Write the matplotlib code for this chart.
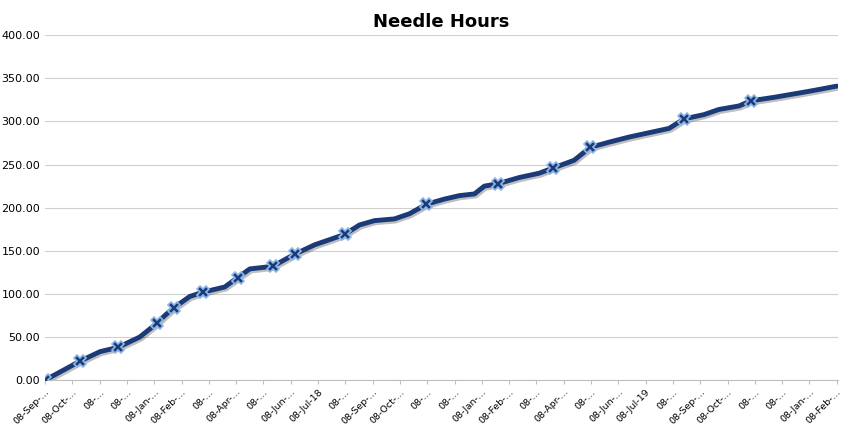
import matplotlib.pyplot as plt
import matplotlib.patheffects as pe

# x in months since 08-Sep-2017, y in hours
line_months = [0, 1.28, 2.01, 2.67, 3.47, 4.1, 4.39, 4.72, 5.3, 5.78, 6.58, 7.06, 7.5, 8.34,
               9.14, 9.88, 10.43, 10.97, 11.52, 12.07, 12.8, 13.35, 13.97, 14.63, 15.18,
               15.73, 16.09, 16.61, 17.37, 18.1, 18.61, 19.38, 19.97, 20.66, 21.4, 22.13,
               22.86, 23.41, 24.14, 24.69, 25.42, 25.86, 26.7, 27.62, 28.16, 29.0]
line_hours = [0, 22, 33, 38, 50, 66, 75, 84, 97, 102, 108, 119, 129, 132,
              146, 157, 163, 169, 180, 185, 187, 193, 204, 210, 214,
              216, 225, 228, 235, 240, 246, 255, 270, 276, 282, 287, 292, 303,
              308, 314, 318, 324, 328, 333, 336, 341]
marker_months = [0, 1.28, 2.67, 4.1, 4.72, 5.78, 7.06, 8.34, 9.14, 10.97, 13.97, 16.61,
                 18.61, 19.97, 23.41, 25.86]
marker_hours = [0, 22, 38, 66, 84, 102, 119, 132, 146, 169, 204, 228, 246, 270, 303, 324]

tick_labels = ["08-Sep-…", "08-Oct-…", "08-…", "08-…", "08-Jan-…", "08-Feb-…", "08-…",
               "08-Apr-…", "08-…", "08-Jun-…", "08-Jul-18", "08-…", "08-Sep-…", "08-Oct-…",
               "08-…", "08-…", "08-Jan-…", "08-Feb-…", "08-…", "08-Apr-…", "08-…",
               "08-Jun-…", "08-Jul-19", "08-…", "08-Sep-…", "08-Oct-…", "08-…", "08-…",
               "08-Jan-…", "08-Feb-…"]

fig, ax = plt.subplots(figsize=(8.5, 4.3), dpi=100)
fig.subplots_adjust(left=0.053, right=0.986, top=0.918, bottom=0.116)

shadow = [pe.SimpleLineShadow(offset=(1, -1.5), alpha=0.25), pe.Normal()]
ax.plot(line_months, line_hours, color="#1a3a78", linewidth=3.5,
        solid_capstyle="round", path_effects=shadow, zorder=3)
ax.plot(marker_months, marker_hours, linestyle="none", marker="X", markersize=9,
        markerfacecolor="#1a3a78", markeredgecolor="#8fb8e8", markeredgewidth=1.2, zorder=4)

ax.set_title("Needle Hours", fontsize=13, fontweight="bold", pad=6)
ax.set_xlim(0, 29.05)
ax.set_ylim(0, 400)
ax.set_yticks(range(0, 401, 50))
ax.set_yticklabels([f"{v:.2f}" for v in range(0, 401, 50)], fontsize=8)
ax.set_xticks(range(len(tick_labels)))
ax.set_xticklabels(tick_labels, rotation=45, ha="right", fontsize=6.8, rotation_mode="anchor")
ax.tick_params(axis="x", pad=2)
ax.grid(axis="y", color="#d0d0d0", linewidth=0.8)
ax.set_axisbelow(True)
for s in ["top", "right", "left"]:
    ax.spines[s].set_visible(False)
ax.spines["bottom"].set_color("#c0c0c0")
ax.tick_params(axis="y", length=0)
ax.tick_params(axis="x", length=3, color="#c0c0c0")

fig.savefig("out.png", dpi=100)
